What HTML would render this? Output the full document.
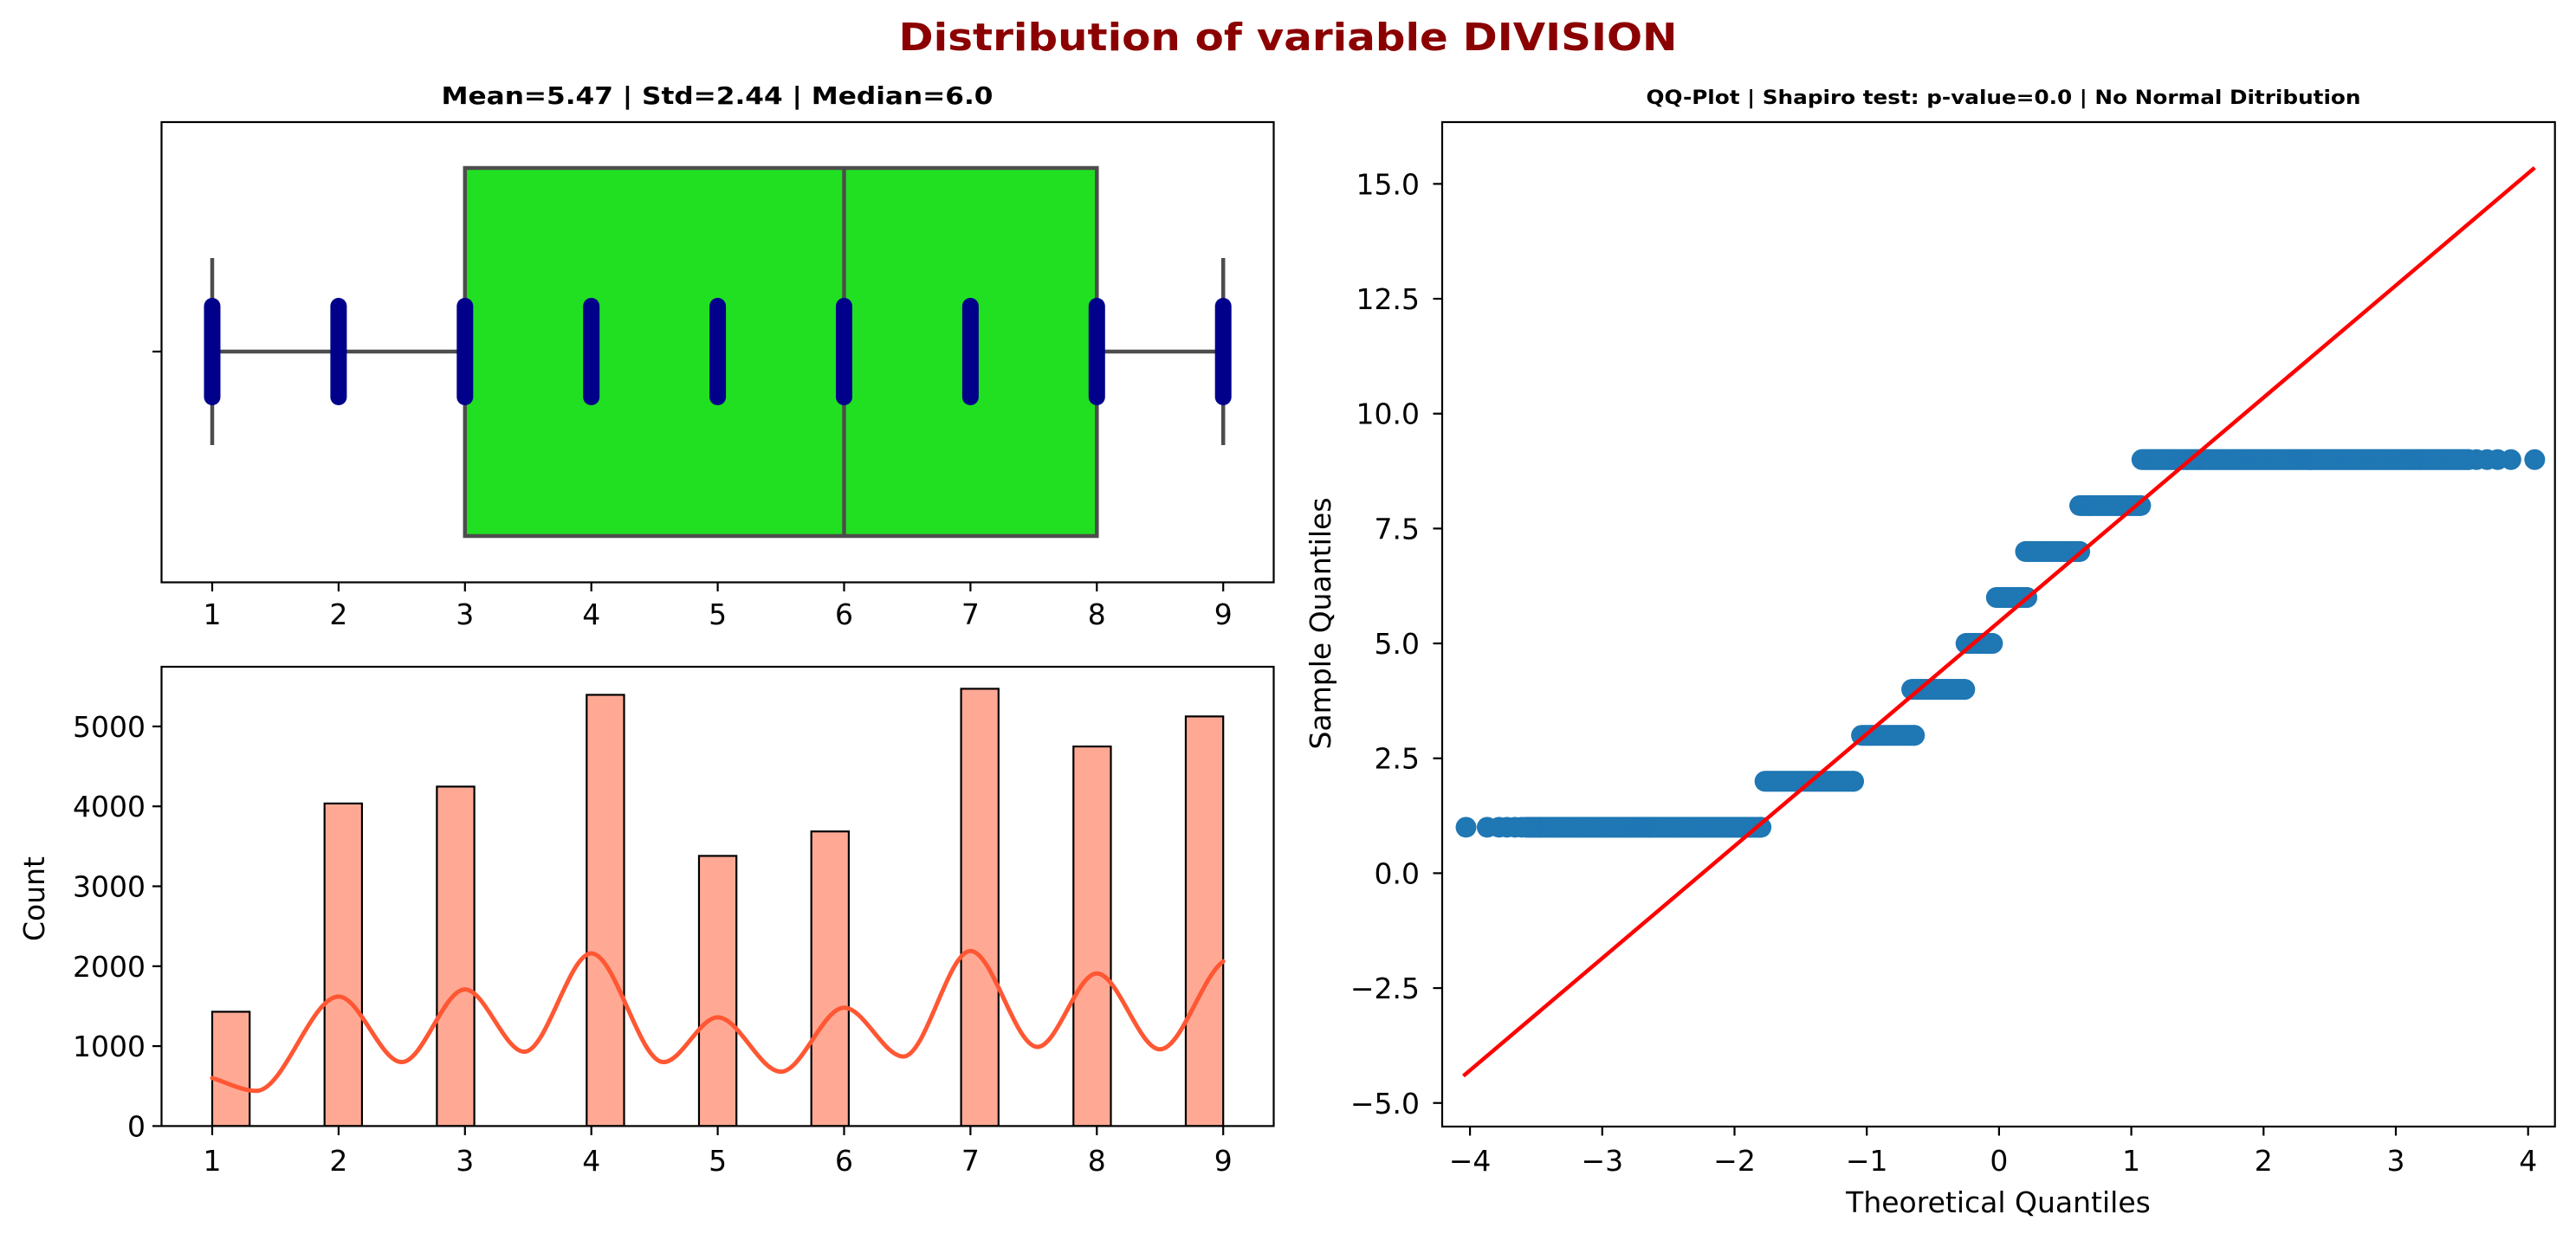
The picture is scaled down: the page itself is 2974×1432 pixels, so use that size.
<!DOCTYPE html>
<html><head><meta charset="utf-8"><style>
html,body{margin:0;padding:0;background:#fff;}
svg{display:block;font-family:"DejaVu Sans","Liberation Sans",sans-serif;}
</style></head><body>
<svg id="fig" width="2974" height="1432" viewBox="0 0 2974 1432" xmlns="http://www.w3.org/2000/svg">
<rect width="2974" height="1432" fill="#fff"/>
<text x="1487" y="58" text-anchor="middle" font-size="44" font-weight="bold" fill="#8b0000" textLength="899" lengthAdjust="spacingAndGlyphs">Distribution of variable DIVISION</text>
<text x="828" y="120" text-anchor="middle" font-size="28" font-weight="bold" fill="#000" textLength="637" lengthAdjust="spacingAndGlyphs">Mean=5.47 | Std=2.44 | Median=6.0</text>
<text x="2313" y="120" text-anchor="middle" font-size="22" font-weight="bold" fill="#000" textLength="825" lengthAdjust="spacingAndGlyphs">QQ-Plot | Shapiro test: p-value=0.0 | No Normal Ditribution</text>
<g id="box"></g><g id="hist"></g><g id="qq"></g>
</svg>
<script>
// ---- data ----
const boxCategories = [1,2,3,4,5,6,7,8,9];
const boxStats = [1, 3, 6, 8, 9]; // min, q1, median, q3, max
const histValues = [1,2,3,4,5,6,7,8,9];
const histCounts = [1430,4036,4247,5395,3380,3686,5471,4749,5125];
const histTicks = [0,1000,2000,3000,4000,5000];
const kdeX = [1,1.35,2,2.5,3,3.47,4,4.57,5,5.5,6,6.47,7,7.53,8,8.5,9];
const kdeY = [600,440,1620,800,1710,930,2160,800,1360,680,1480,870,2190,990,1910,960,2060];
const qqLevels = [1,2,3,4,5,6,7,8,9];
const qqRunStart = [-3.58,-1.77,-1.04,-0.66,-0.25,-0.02,0.20,0.61,1.08];
const qqRunEnd = [-1.80,-1.10,-0.64,-0.26,-0.05,0.21,0.61,1.07,3.55];
const qqTailLeft = [-4.03,-3.87,-3.78,-3.72,-3.66,-3.61];
const qqTailRight = [3.61,3.69,3.77,3.87,4.05];
const qqLineX = [-4.05,4.05];
const qqLineMean = 5.47, qqLineStd = 2.44;
const qqXTicks = [-4,-3,-2,-1,0,1,2,3,4];
const qqYTicks = [-5,-2.5,0,2.5,5,7.5,10,12.5,15];
const qqYTickLabels = ["\u22125.0","\u22122.5","0.0","2.5","5.0","7.5","10.0","12.5","15.0"];
const qqXTickLabels = ["\u22124","\u22123","\u22122","\u22121","0","1","2","3","4"];

const NS="http://www.w3.org/2000/svg";
function mk(parent,tag,attrs,txt){const e=document.createElementNS(NS,tag);for(const k in attrs)e.setAttribute(k,attrs[k]);if(txt!==undefined)e.textContent=txt;parent.appendChild(e);return e;}

// ---- scales ----
const bx = v => 245 + (v-1)*145.9;
const hy = c => 1300.4 - c*0.0923;
const qx = t => 2307.9 + t*152.7;
const qy = v => 1008.4 - v*53.07;

// ---- box plot ----
const gb=document.getElementById('box');
let e;
e=mk(gb,'line',{x1:bx(boxStats[0]),x2:bx(boxStats[1]),y1:406,y2:406,stroke:'#4d4d4d','stroke-width':4.5});


e=mk(gb,'line',{x1:bx(boxStats[3]),x2:bx(boxStats[4]),y1:406,y2:406,stroke:'#4d4d4d','stroke-width':4.5});


e=mk(gb,'line',{x1:bx(boxStats[0]),x2:bx(boxStats[0]),y1:298,y2:514,stroke:'#4d4d4d','stroke-width':4.5});


e=mk(gb,'line',{x1:bx(boxStats[4]),x2:bx(boxStats[4]),y1:298,y2:514,stroke:'#4d4d4d','stroke-width':4.5});


e=mk(gb,'rect',{x:bx(boxStats[1]),y:194,width:bx(boxStats[3])-bx(boxStats[1]),height:425,fill:'#21e021',stroke:'#4d4d4d','stroke-width':4.5});


e=mk(gb,'line',{x1:bx(boxStats[2]),x2:bx(boxStats[2]),y1:194,y2:619,stroke:'#4d4d4d','stroke-width':4.5});


boxCategories.forEach(v=>{
  const r=mk(gb,'rect',{x:bx(v)-9.5,y:344,width:19,height:124,rx:9.5,ry:9.5,fill:'#00008b'});
  
  
});
e=mk(gb,'rect',{x:186.5,y:141,width:1284,height:531.5,fill:'none',stroke:'#000','stroke-width':2.2});


mk(gb,'line',{x1:176,x2:186.5,y1:406,y2:406,stroke:'#000','stroke-width':2.2});
boxCategories.forEach(v=>{
  mk(gb,'line',{x1:bx(v),x2:bx(v),y1:672.5,y2:683,stroke:'#000','stroke-width':2.2});
  const t=mk(gb,'text',{x:bx(v),y:721,'text-anchor':'middle','font-size':33},String(v));
  
  
});

// ---- histogram ----
const gh=document.getElementById('hist');
const binW=8/27;
histValues.forEach((v,i)=>{
  let idx=Math.floor((v-1)/binW+1e-9); if(idx>26) idx=26;
  const x0=bx(1+idx*binW), x1=bx(1+(idx+1)*binW);
  const r=mk(gh,'rect',{x:x0,y:hy(histCounts[i]),width:x1-x0,height:hy(0)-hy(histCounts[i]),fill:'#ffa995',stroke:'#000','stroke-width':2.2});
  
  
});
(function(){
  const n=kdeX.length; const m=[];
  for(let i=0;i<n;i++){
    if(i===0) m.push((kdeY[1]-kdeY[0])/(kdeX[1]-kdeX[0]));
    else if(i===n-1) m.push((kdeY[n-1]-kdeY[n-2])/(kdeX[n-1]-kdeX[n-2])*0.5);
    else m.push(0);
  }
  let d='M'+bx(kdeX[0])+','+hy(kdeY[0]);
  for(let i=0;i<n-1;i++){
    const h=kdeX[i+1]-kdeX[i];
    const c1x=kdeX[i]+h/3, c1y=kdeY[i]+m[i]*h/3;
    const c2x=kdeX[i+1]-h/3, c2y=kdeY[i+1]-m[i+1]*h/3;
    d+=' C'+bx(c1x)+','+hy(c1y)+' '+bx(c2x)+','+hy(c2y)+' '+bx(kdeX[i+1])+','+hy(kdeY[i+1]);
  }
  const p=mk(gh,'path',{d:d,fill:'none',stroke:'#ff5733','stroke-width':5,'stroke-linecap':'round'});
  
  
})();
e=mk(gh,'rect',{x:186.5,y:770,width:1284,height:530.4,fill:'none',stroke:'#000','stroke-width':2.2});


histValues.forEach(v=>{
  mk(gh,'line',{x1:bx(v),x2:bx(v),y1:1300.4,y2:1311,stroke:'#000','stroke-width':2.2});
  const t=mk(gh,'text',{x:bx(v),y:1352,'text-anchor':'middle','font-size':33},String(v));
  
  
});
histTicks.forEach(c=>{
  mk(gh,'line',{x1:176,x2:186.5,y1:hy(c),y2:hy(c),stroke:'#000','stroke-width':2.2});
  const t=mk(gh,'text',{x:168,y:hy(c)+12,'text-anchor':'end','font-size':33},String(c));
  
  
});
e=mk(gh,'text',{x:0,y:0,transform:'translate(51,1038) rotate(-90)','text-anchor':'middle','font-size':33},'Count');



// ---- QQ plot ----
const gq=document.getElementById('qq');
const dots=mk(gq,'g',{fill:'#1f77b4'});


qqLevels.forEach((lv,i)=>{
  for(let t=qqRunStart[i];t<=qqRunEnd[i]+1e-9;t+=0.01){
    mk(dots,'circle',{cx:qx(t),cy:qy(lv),r:12});
  }
  mk(dots,'circle',{cx:qx(qqRunEnd[i]),cy:qy(lv),r:12});
});
qqTailLeft.forEach(t=>mk(dots,'circle',{cx:qx(t),cy:qy(qqLevels[0]),r:12}));
qqTailRight.forEach(t=>mk(dots,'circle',{cx:qx(t),cy:qy(qqLevels[qqLevels.length-1]),r:12}));
e=mk(gq,'line',{x1:qx(qqLineX[0]),y1:qy(qqLineMean+qqLineStd*qqLineX[0]),x2:qx(qqLineX[1]),y2:qy(qqLineMean+qqLineStd*qqLineX[1]),stroke:'#ff0000','stroke-width':4.5});


e=mk(gq,'rect',{x:1665,y:141,width:1284.7,height:1160,fill:'none',stroke:'#000','stroke-width':2.2});


qqXTicks.forEach((t,i)=>{
  mk(gq,'line',{x1:qx(t),x2:qx(t),y1:1301,y2:1311.5,stroke:'#000','stroke-width':2.2});
  const tx=mk(gq,'text',{x:qx(t),y:1352,'text-anchor':'middle','font-size':33},qqXTickLabels[i]);
  
  
});
qqYTicks.forEach((v,i)=>{
  mk(gq,'line',{x1:1654.5,x2:1665,y1:qy(v),y2:qy(v),stroke:'#000','stroke-width':2.2});
  const tx=mk(gq,'text',{x:1639,y:qy(v)+12,'text-anchor':'end','font-size':33},qqYTickLabels[i]);
  
  
});
e=mk(gq,'text',{x:2307,y:1400,'text-anchor':'middle','font-size':33},'Theoretical Quantiles');


e=mk(gq,'text',{x:0,y:0,transform:'translate(1536,720) rotate(-90)','text-anchor':'middle','font-size':33},'Sample Quantiles');


</script>
</body></html>
